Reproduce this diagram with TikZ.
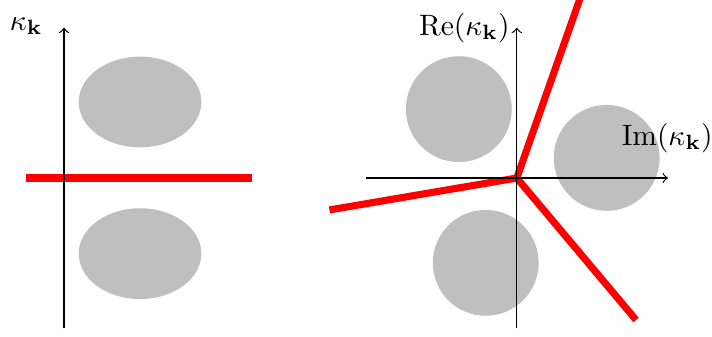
\documentclass[tikz,border=0pt]{standalone}
\usepackage{amsmath,amssymb}
\usepackage{tikz}
\usepackage{xcolor}

\begin{document}
\begin{tikzpicture}[
  blob/.style={fill=lightgray,draw=none},
  cut/.style={draw=red,line width=2.4pt},
  axis/.style={->,draw=black,line width=0.4pt}
]
\useasboundingbox (-0.762,-1.881) rectangle (7.714,2.119);

% left panel
\coordinate (o1) at (0,0);
\coordinate (ytop1) at (0,1.79);
\coordinate (ybot1) at (0,-1.79);
\coordinate (cl1) at (-0.45,0);
\coordinate (cr1) at (2.24,0);
\fill[blob] (0.905,0.905) ellipse (0.73 and 0.54);
\fill[blob] (0.905,-0.9) ellipse (0.73 and 0.54);
\draw[cut] (cl1) -- (cr1);
\draw[axis] (ybot1) -- (ytop1);
\node[anchor=base] (klab) at (-0.45,1.76) {$\kappa_{\mathbf{k}}$};

% right panel
\coordinate (o2) at (5.39,0);
\coordinate (ytop2) at (5.39,1.79);
\coordinate (ybot2) at (5.39,-1.79);
\coordinate (xl2) at (3.6,0);
\coordinate (xr2) at (7.19,0);
\fill[blob] (4.70,0.82) circle (0.63);
\fill[blob] (6.46,0.24) circle (0.63);
\fill[blob] (5.02,-1.01) circle (0.63);
\coordinate (c1) at (6.20,2.30);
\coordinate (c2) at (3.16,-0.38);
\coordinate (c3) at (6.81,-1.69);
\draw[cut] (o2) -- (c1);
\draw[cut] (o2) -- (c2);
\draw[cut] (o2) -- (c3);
\draw[axis] (ybot2) -- (ytop2);
\draw[axis] (xl2) -- (xr2);
\node[anchor=base] (relab) at (4.765,1.70) {$\mathrm{Re}(\kappa_{\mathbf{k}})$};
\node[anchor=base] (imlab) at (7.18,0.39) {$\mathrm{Im}(\kappa_{\mathbf{k}})$};
\end{tikzpicture}
\end{document}
